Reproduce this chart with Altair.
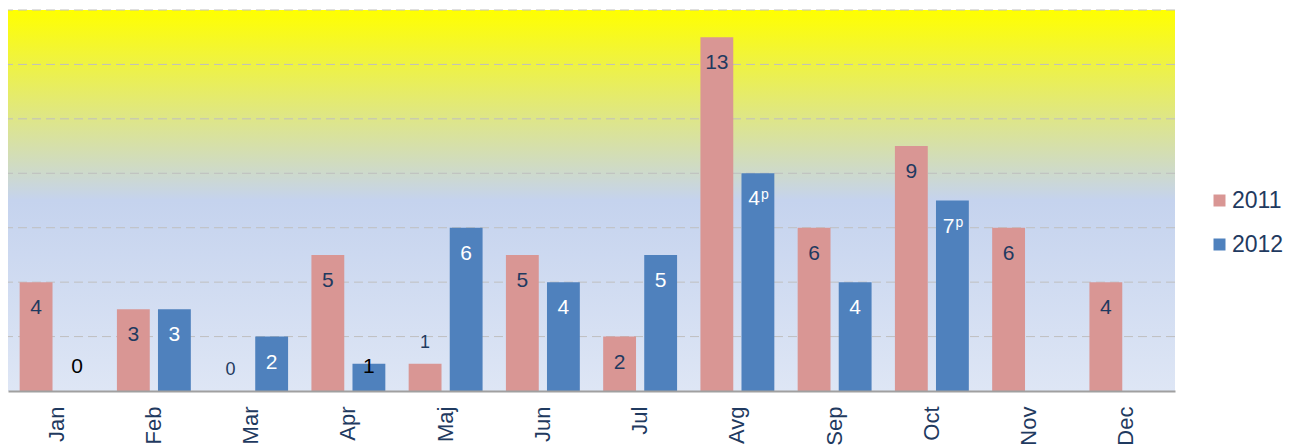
import altair as alt
import pandas as pd

months = ["Jan", "Feb", "Mar", "Apr", "Maj", "Jun", "Jul", "Avg", "Sep", "Oct", "Nov", "Dec"]
values_2011 = [4, 3, 0, 5, 1, 5, 2, 13, 6, 9, 6, 4]
labels_2011 = ["4", "3", "0", "5", "1", "5", "2", "13", "6", "9", "6", "4"]
values_2012 = [0, 3, 2, 1, 6, 4, 5, 8, 4, 7, None, None]
labels_2012 = ["0", "3", "2", "1", "6", "4", "5", "4", "4", "7", "", ""]
suffix_2012 = ["", "", "", "", "", "", "", "p", "", "p", "", ""]
grid_values = [2, 4, 6, 8, 10, 12, 14]
years = ["2011", "2012"]

rows = []
for i, m in enumerate(months):
    rows.append({"month": m, "year": "2011", "value": values_2011[i], "label": labels_2011[i], "suffix": ""})
    if values_2012[i] is not None:
        rows.append({"month": m, "year": "2012", "value": values_2012[i], "label": labels_2012[i], "suffix": suffix_2012[i]})
df = pd.DataFrame(rows)

W, H = 1167, 381
PINK, BLUE, NAVY = "#D99694", "#4F81BD", "#1F3A60"
FONT = "Liberation Sans"

xenc = alt.X("month:N", sort=months,
             scale=alt.Scale(paddingInner=0.24, paddingOuter=0.12),
             axis=alt.Axis(title=None, labelAngle=-90, labelFontSize=22, labelColor=NAVY,
                           labelFont=FONT, labelPadding=15, ticks=False, grid=False,
                           domainColor="#A0A0A0", domainWidth=2, zindex=1))
xoff = alt.XOffset("year:N", scale=alt.Scale(domain=years, paddingInner=0.2, paddingOuter=0))
yscale = alt.Scale(domain=[0, 14], nice=False, zero=True)
yenc = alt.Y("value:Q", scale=yscale,
             axis=alt.Axis(title=None, labels=False, ticks=False, domain=False, grid=False))

bg = alt.Chart(alt.Data(values=[{}])).mark_rect(
    fill=alt.Gradient(gradient="linear", x1=0, y1=0, x2=0, y2=1,
                      stops=[alt.GradientStop(offset=0, color="#FFFF00"),
                             alt.GradientStop(offset=0.5, color="#C5D3EE"),
                             alt.GradientStop(offset=1, color="#DEE6F5")]),
    strokeWidth=0
).encode(x=alt.value(0), x2=alt.value(W), y=alt.value(0), y2=alt.value(H))

grid = alt.Chart(pd.DataFrame({"g": grid_values})).mark_rule(
    color="#BFBFBF", strokeDash=[9, 5], strokeWidth=1
).encode(y=alt.Y("g:Q", scale=yscale, axis=None))

bars = alt.Chart(df).mark_bar().encode(
    x=xenc, xOffset=xoff, y=yenc,
    color=alt.Color("year:N", scale=alt.Scale(domain=years, range=[PINK, BLUE]),
                    legend=alt.Legend(title=None, orient="none", legendX=1200, legendY=179,
                                      labelFontSize=23, labelColor=NAVY, labelFont=FONT,
                                      symbolType="square", symbolSize=144, symbolStrokeWidth=0,
                                      symbolOpacity=1, rowPadding=20, labelOffset=1, padding=0))
)

base = alt.Chart(df)
txt_big = base.transform_filter("datum.value >= 2 && datum.suffix == ''").mark_text(
    dy=26, baseline="middle", align="center", fontSize=21, font=FONT
).encode(x=xenc, xOffset=xoff, y=yenc, text="label:N",
         color=alt.condition("datum.year == '2011'", alt.value(NAVY), alt.value("white")))

txt_sup_num = base.transform_filter("datum.suffix != ''").mark_text(
    dy=26, dx=2, baseline="middle", align="right", fontSize=21, font=FONT, color="white"
).encode(x=xenc, xOffset=xoff, y=yenc, text="label:N")
txt_sup = base.transform_filter("datum.suffix != ''").mark_text(
    dy=22, dx=3, baseline="middle", align="left", fontSize=14, font=FONT, color="white"
).encode(x=xenc, xOffset=xoff, y=yenc, text="suffix:N")

txt_small_2011 = base.transform_filter("datum.value < 2 && datum.year == '2011'").mark_text(
    dy=-21, baseline="middle", align="center", fontSize=18, font=FONT, color=NAVY
).encode(x=xenc, xOffset=xoff, y=yenc, text="label:N")

txt_small_2012 = base.transform_filter("datum.value < 2 && datum.year == '2012'").transform_calculate(
    base0="0"
).mark_text(
    dy=-24, baseline="middle", align="center", fontSize=21, font=FONT, color="black"
).encode(x=xenc, xOffset=xoff, y=alt.Y("base0:Q", scale=yscale, axis=None), text="label:N")

chart = alt.layer(bg, grid, bars, txt_big, txt_sup_num, txt_sup, txt_small_2011, txt_small_2012).properties(
    width=W, height=H,
    autosize=alt.AutoSizeParams(type="none"),
    padding={"left": 0, "top": 2, "right": 113, "bottom": 57}
).configure_view(strokeWidth=0)

chart.save("out.html", embed_options={"renderer": "svg", "actions": False})
